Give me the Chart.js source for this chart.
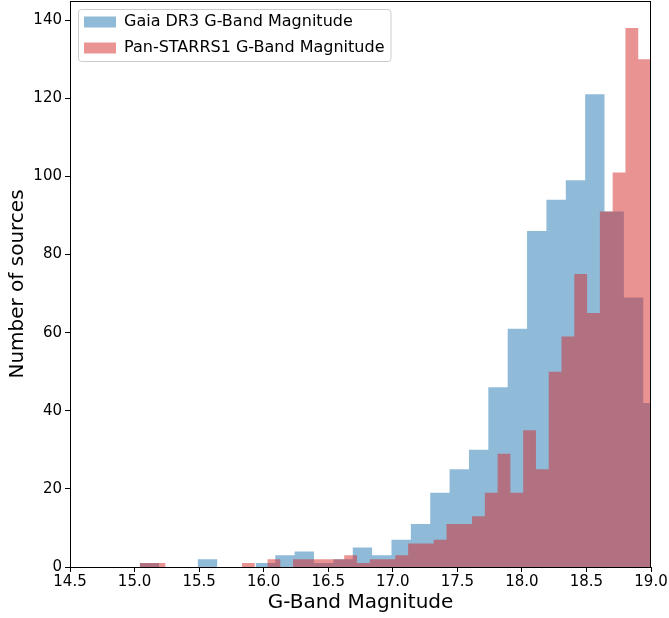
<!DOCTYPE html>
<html lang="en">
<head>
    <meta charset="UTF-8" />
    <title>G-Band Magnitude histogram</title>
    <script src="https://cdn.jsdelivr.net/npm/chart.js"></script>
    <style>
        body { margin: 0; background: #fff; }
        #wrap { width: 669px; height: 618px; }
    </style>
</head>
<body>
    <div id="wrap"><canvas id="histChart" width="669" height="618"></canvas></div>

    <script>
        // histogram bins: left edge of first bin + bin width, counts per bin
        const gaiaLabel = "Gaia DR3 G-Band Magnitude";
        const gaiaBinStart = 15.04;
        const gaiaBinWidth = 0.15;
        const gaiaCounts = [1, 0, 0, 2, 0, 0, 1, 3, 4, 1, 2, 5, 3, 7, 11, 19, 25, 30, 46, 61, 86, 94, 99, 121, 91, 69, 42];

        const ps1Label = "Pan-STARRS1 G-Band Magnitude";
        const ps1BinStart = 15.04;
        const ps1BinWidth = 0.099;
        const ps1Counts = [1, 1, 0, 0, 0, 0, 0, 0, 1, 0, 2, 0, 2, 2, 2, 2, 3, 1, 2, 2,
                           3, 6, 6, 7, 11, 11, 13, 19, 29, 19, 35, 25, 50, 59, 75, 65, 91, 101, 138, 130];

        const xTicks = [14.5, 15.0, 15.5, 16.0, 16.5, 17.0, 17.5, 18.0, 18.5, 19.0];
        const yTicks = [0, 20, 40, 60, 80, 100, 120, 140];

        // turn bins into step points (last edge repeats the last count)
        function stepPoints(start, width, counts) {
            const pts = counts.map((c, i) => ({ x: start + i * width, y: c }));
            pts.push({ x: start + counts.length * width, y: counts[counts.length - 1] });
            return pts;
        }

        Chart.defaults.font.family = "'DejaVu Sans', sans-serif";
        Chart.defaults.color = "#000";

        const framePlugin = {
            id: "frame",
            afterLayout(chart) {
                // nudge the legend a bit inside the axes, like matplotlib's upper left
                const lg = chart.legend;
                if (!lg) return;
                lg.left += 4; lg.right += 4;
                lg.top += 4; lg.bottom += 4;
            },
            afterDatasetsDraw(chart) {
                const { ctx, chartArea: a } = chart;
                ctx.save();
                ctx.strokeStyle = "#000";
                ctx.lineWidth = 1;
                ctx.strokeRect(a.left + 0.5, a.top + 0.5, a.right - a.left - 1, a.bottom - a.top);
                ctx.restore();
            },
            afterDraw(chart) {
                const boxes = chart.legend && chart.legend.legendHitBoxes;
                if (!boxes || !boxes.length) return;
                const { ctx } = chart;
                const left = Math.min(...boxes.map(b => b.left)) - 6;
                const top = Math.min(...boxes.map(b => b.top)) - 5;
                const right = Math.max(...boxes.map(b => b.left + b.width)) + 6;
                const bottom = Math.max(...boxes.map(b => b.top + b.height)) + 5;
                ctx.save();
                ctx.strokeStyle = "#cccccc";
                ctx.lineWidth = 1;
                ctx.beginPath();
                ctx.roundRect(left + 0.5, top + 0.5, right - left, bottom - top, 3);
                ctx.stroke();
                ctx.restore();
            }
        };

        new Chart(document.getElementById("histChart"), {
            type: "line",
            data: {
                datasets: [
                    {
                        label: gaiaLabel,
                        data: stepPoints(gaiaBinStart, gaiaBinWidth, gaiaCounts),
                        stepped: "before",
                        fill: "origin",
                        backgroundColor: "rgba(31, 119, 180, 0.5)",
                        borderColor: "rgba(31, 119, 180, 0)",
                        borderWidth: 0,
                        pointRadius: 0,
                        order: 1
                    },
                    {
                        label: ps1Label,
                        data: stepPoints(ps1BinStart, ps1BinWidth, ps1Counts),
                        stepped: "before",
                        fill: "origin",
                        backgroundColor: "rgba(214, 39, 40, 0.5)",
                        borderColor: "rgba(214, 39, 40, 0)",
                        borderWidth: 0,
                        pointRadius: 0,
                        order: 0
                    }
                ]
            },
            options: {
                responsive: false,
                animation: false,
                events: [],
                layout: { padding: { top: 1, right: 18, left: 0, bottom: 0 } },
                plugins: {
                    tooltip: { enabled: false },
                    legend: {
                        position: "chartArea",
                        align: "start",
                        labels: {
                            boxWidth: 32,
                            boxHeight: 11,
                            padding: 10,
                            font: { size: 16 },
                            sort: (a, b) => a.datasetIndex - b.datasetIndex
                        }
                    }
                },
                scales: {
                    x: {
                        type: "linear",
                        min: xTicks[0],
                        max: xTicks[xTicks.length - 1],
                        afterBuildTicks: s => { s.ticks = xTicks.map(v => ({ value: v })); },
                        ticks: { font: { size: 15 }, padding: 1, maxRotation: 0, callback: v => v.toFixed(1) },
                        grid: { display: true, drawOnChartArea: false, drawTicks: true, tickLength: 5, color: "#000" },
                        border: { display: true, color: "#000" },
                        title: { display: true, text: "G-Band Magnitude", font: { size: 20 }, padding: { top: 0, bottom: 3 } },
                        afterFit: s => { s.height = 51; s.paddingLeft = 0; s.paddingRight = 0; }
                    },
                    y: {
                        min: 0,
                        max: 144.9,
                        afterBuildTicks: s => { s.ticks = yTicks.map(v => ({ value: v })); },
                        ticks: { font: { size: 15 }, padding: 3 },
                        grid: { display: true, drawOnChartArea: false, drawTicks: true, tickLength: 5, color: "#000" },
                        border: { display: true, color: "#000" },
                        title: { display: true, text: "Number of sources", font: { size: 20 }, padding: { top: 6, bottom: 0 } },
                        afterFit: s => { s.width = 70; s.paddingTop = 0; s.paddingBottom = 0; }
                    }
                }
            },
            plugins: [framePlugin]
        });
    </script>
</body>
</html>
